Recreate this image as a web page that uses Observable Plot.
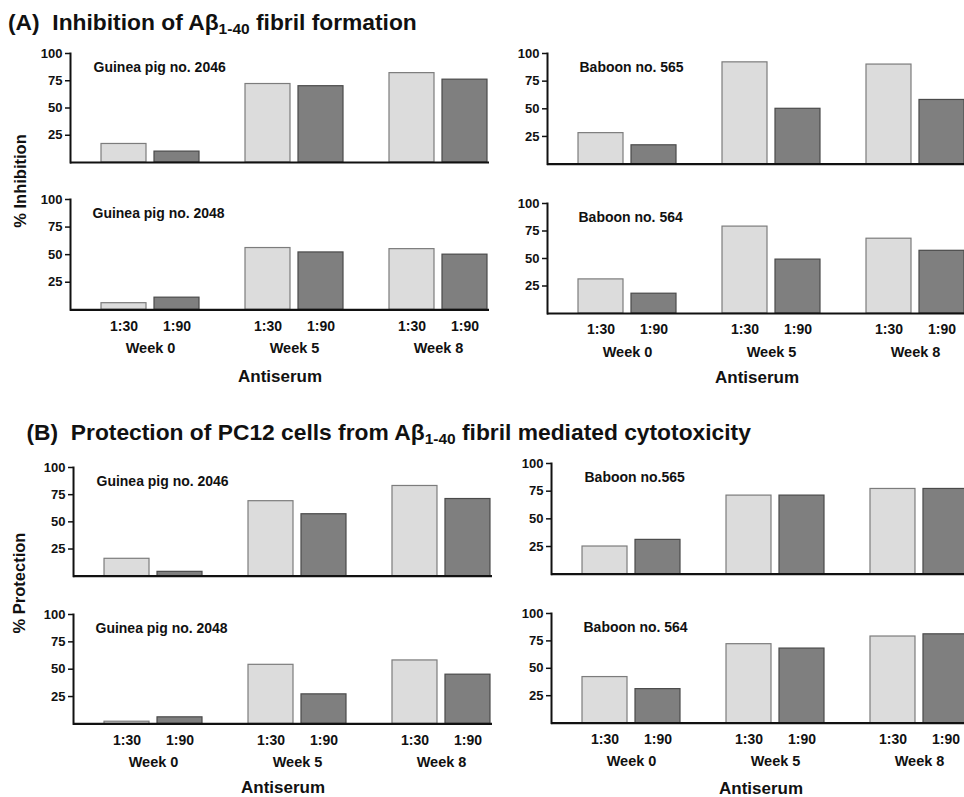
<!DOCTYPE html>
<html><head><meta charset="utf-8">
<script src="https://cdn.jsdelivr.net/npm/d3@7"></script>
<script src="https://cdn.jsdelivr.net/npm/@observablehq/plot@0.6"></script>
<style>
body{margin:0;background:#fff;}
#root{position:relative;width:964px;height:797px;overflow:hidden;font-family:"Liberation Sans",Arial,sans-serif;color:#111;background:#fff;}
.title{position:absolute;font-weight:bold;font-size:22.8px;line-height:22px;white-space:pre;}
.title sub{font-size:15.5px;vertical-align:-4px;line-height:0;}
.ylab{position:absolute;font-weight:bold;font-size:16.5px;white-space:nowrap;transform:translate(-50%,-50%) rotate(-90deg);}
svg{position:absolute;}
</style></head><body><div id="root"></div>
<script>
// ---- data ----
const weeks = ["Week 0", "Week 5", "Week 8"];
const dilutions = ["1:30", "1:90"];
const yTicks = [25, 50, 75, 100];
const titleA = ["(A)  Inhibition of A\u03b2", "1-40", " fibril formation"];
const titleB = ["(B)  Protection of PC12 cells from A\u03b2", "1-40", " fibril mediated cytotoxicity"];
const yLabelA = "% Inhibition";
const yLabelB = "% Protection";
const xLabel = "Antiserum";
const panelLabels = ["Guinea pig no. 2046", "Baboon no. 565", "Guinea pig no. 2048", "Baboon no. 564",
                     "Guinea pig no. 2046", "Baboon no.565", "Guinea pig no. 2048", "Baboon no. 564"];
// values per panel, ordered: Week 0 (1:30, 1:90), Week 5 (1:30, 1:90), Week 8 (1:30, 1:90)
const inhibitionGP2046 = [17, 10, 72, 70, 82, 76];
const inhibitionBab565 = [28, 17, 92, 50, 90, 58];
const inhibitionGP2048 = [6, 11, 56, 52, 55, 50];
const inhibitionBab564 = [31, 18, 79, 49, 68, 57];
const protectionGP2046 = [16, 4, 69, 57, 83, 71];
const protectionBab565 = [25, 31, 71, 71, 77, 77];
const protectionGP2048 = [2, 6, 54, 27, 58, 45];
const protectionBab564 = [42, 31, 72, 68, 79, 81];
const panelValues = [inhibitionGP2046, inhibitionBab565, inhibitionGP2048, inhibitionBab564,
                     protectionGP2046, protectionBab565, protectionGP2048, protectionBab564];

// ---- layout (positions only) ----
const layout = [
  {axisX: 70,    top100: 53,    base: 162,   bottom: false, labelDx: 23},
  {axisX: 547,   top100: 52.7,  base: 163.3, bottom: false, labelDx: 32},
  {axisX: 70,    top100: 199,   base: 309.3, bottom: true,  labelDx: 22, antiDy: 67},
  {axisX: 547,   top100: 202.7, base: 312.7, bottom: true,  labelDx: 31, antiDy: 64.5},
  {axisX: 72.7,  top100: 467.3, base: 576,   bottom: false, labelDx: 23},
  {axisX: 550.7, top100: 463.3, base: 574,   bottom: false, labelDx: 33},
  {axisX: 72.7,  top100: 614.3, base: 723.7, bottom: true,  labelDx: 22, antiDy: 63.8},
  {axisX: 551,   top100: 612.7, base: 722.3, bottom: true,  labelDx: 32, antiDy: 65.2}
];

const root = document.getElementById("root");

function addTitle(parts, left, top) {
  const d = document.createElement("div");
  d.className = "title";
  d.style.left = left + "px"; d.style.top = top + "px";
  d.append(parts[0]);
  const s = document.createElement("sub"); s.textContent = parts[1]; d.append(s);
  d.append(parts[2]);
  root.append(d);
}
function addYLabel(text, cx, cy) {
  const d = document.createElement("div");
  d.className = "ylab"; d.textContent = text;
  d.style.left = cx + "px"; d.style.top = cy + "px";
  root.append(d);
}

addTitle(titleA, 8, 11);
addTitle(titleB, 26.5, 421);
addYLabel(yLabelA, 19.5, 180.5);
addYLabel(yLabelB, 19, 582.5);

const LIGHT = "#dcdcdc", LIGHT_STROKE = "#7c7c7c";
const DARK = "#7f7f7f", DARK_STROKE = "#4a4a4a";
const INK = "#111";

layout.forEach((p, k) => {
  const mL = 70, mT = 10, mR = 4, mB = p.bottom ? 74 : 6;
  const inner = 419;
  const width = mL + inner + mR;
  const height = mT + (p.base - p.top100) + mB;
  const rows = weeks.flatMap((w, i) => dilutions.map((d, j) => ({week: w, dilution: d, value: panelValues[k][i * 2 + j]})));
  const lo = rows.filter(r => r.dilution === dilutions[0]);
  const hi = rows.filter(r => r.dilution === dilutions[1]);
  const marks = [
    Plot.barY(lo, {x: "week", y: "value", fill: LIGHT, stroke: LIGHT_STROKE, strokeWidth: 1.2, insetRight: 53}),
    Plot.barY(hi, {x: "week", y: "value", fill: DARK, stroke: DARK_STROKE, strokeWidth: 1.2, insetLeft: 53}),
    Plot.ruleY([0], {stroke: INK, strokeWidth: 2.2}),
    Plot.frame({anchor: "left", stroke: INK, strokeWidth: 2}),
    Plot.axisY(yTicks, {tickSize: 5, tickPadding: 3, fontSize: 13, strokeWidth: 1.5, color: INK, label: null}),
    Plot.text([panelLabels[k]], {frameAnchor: "top-left", dx: p.labelDx, dy: 8.5, lineAnchor: "top", textAnchor: "start", fontSize: 14, fill: INK})
  ];
  if (p.bottom) {
    marks.push(
      Plot.text(lo, {x: "week", text: "dilution", frameAnchor: "bottom", dx: -26.5, dy: 16.5, lineAnchor: "middle", fontSize: 14, fill: INK}),
      Plot.text(hi, {x: "week", text: "dilution", frameAnchor: "bottom", dx: 26.5, dy: 16.5, lineAnchor: "middle", fontSize: 14, fill: INK}),
      Plot.axisX({tickSize: 0, tickPadding: 33, fontSize: 14.5, color: INK, label: null}),
      Plot.text([xLabel], {frameAnchor: "bottom", dy: p.antiDy, lineAnchor: "middle", fontSize: 17, fill: INK})
    );
  }
  const svg = Plot.plot({
    width, height,
    marginLeft: mL, marginTop: mT, marginRight: mR, marginBottom: mB,
    x: {domain: weeks, range: [mL + 30, mL + inner], paddingInner: 0.317, paddingOuter: 0, axis: p.bottom ? undefined : null},
    y: {domain: [0, 100]},
    style: {fontFamily: "'Liberation Sans', Arial, sans-serif", fontWeight: "bold", background: "transparent", overflow: "visible"},
    marks
  });
  svg.style.left = (p.axisX - mL) + "px";
  svg.style.top = (p.top100 - mT) + "px";
  root.append(svg);
});
</script></body></html>
